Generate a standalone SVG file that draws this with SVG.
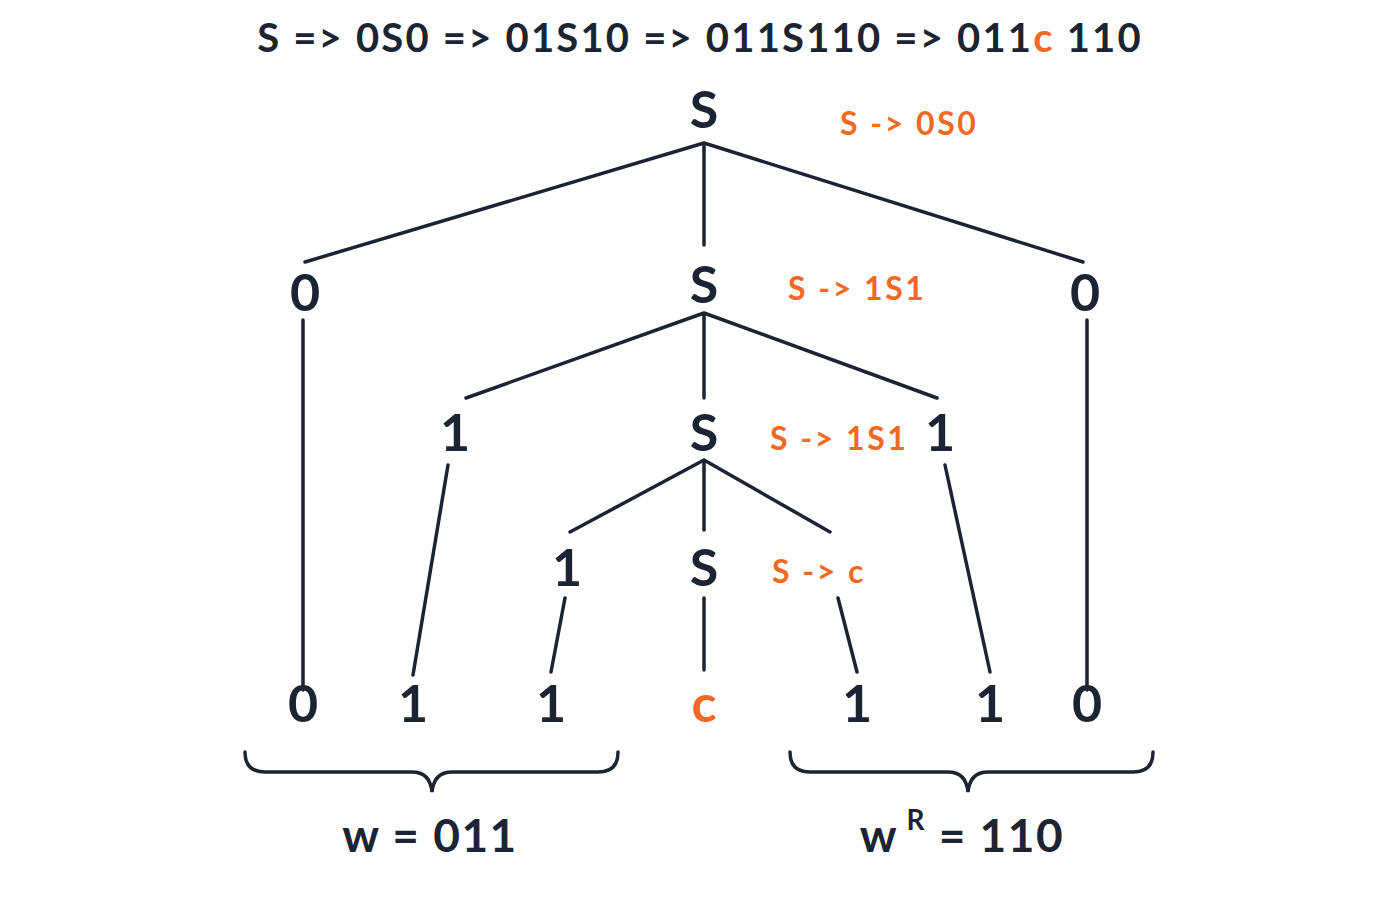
<svg xmlns="http://www.w3.org/2000/svg" width="1400" height="900" viewBox="0 0 1400 900">
<style>
.t{font-family:Lato,"Noto Sans",sans-serif;fill:#1c2433;text-anchor:middle}
.n{font-size:52px;font-weight:700}
.o{fill:#f26a21}
.r{font-family:Lato,"Noto Sans",sans-serif;fill:#f26a21;font-size:32px;font-weight:700;letter-spacing:2.5px}
.e{stroke:#1c2433;stroke-width:3.5;fill:none;stroke-linecap:round}
</style>
<rect width="1400" height="900" fill="#fff"/>
<text class="t" x="700" y="52" font-size="40" font-weight="700" letter-spacing="2.2">S =&gt; 0S0 =&gt; 01S10 =&gt; 011S110 =&gt; 011<tspan class="o">c</tspan> 110</text>
<g id="connectors" class="e">
<path d="M704 143L305 262M704 143V245M704 143L1083 262"/>
<path d="M303 320V690M1087 320V690"/>
<path d="M704 313L466 398M704 313V398M704 313L937 398"/>
<path d="M448 465L413 675M945 465L990 672"/>
<path d="M704 460L570 532M704 460V530M704 460L830 532"/>
<path d="M565 598L551 672M704 598V670M838 598L857 672"/>
</g>
<g id="root"><text class="t n" x="704" y="128">S</text></g>
<text class="r" x="840" y="135">S -&gt; 0S0</text>
<g id="l2"><text class="t n" x="305" y="311">0</text><text class="t n" x="704" y="303">S</text><text class="t n" x="1085" y="311">0</text></g>
<text class="r" x="788" y="300">S -&gt; 1S1</text>
<g id="l3"><text class="t n" x="455" y="451">1</text><text class="t n" x="704" y="451">S</text><text class="t n" x="940" y="451">1</text></g>
<text class="r" x="770" y="450">S -&gt; 1S1</text>
<g id="l4"><text class="t n" x="567" y="586">1</text><text class="t n" x="704" y="586">S</text></g>
<text class="r" x="772" y="583">S -&gt; c</text>
<g id="leaves">
<text class="t n" x="303" y="722">0</text><text class="t n" x="413" y="722">1</text><text class="t n" x="551" y="722">1</text>
<text class="t n" x="704" y="722" style="fill:#f26a21">c</text>
<text class="t n" x="857" y="722">1</text><text class="t n" x="990" y="722">1</text><text class="t n" x="1087" y="722">0</text>
</g>
<g id="braces" class="e" stroke-width="3">
<path d="M245 752Q245 772 265 772H412Q430 772 432 792Q434 772 452 772H598Q618 772 618 752"/>
<path d="M790 752Q790 772 810 772H948Q966 772 968 792Q970 772 988 772H1133Q1153 772 1153 752"/>
</g>
<g id="labels">
<text class="t" x="430" y="852" font-size="46" font-weight="700" letter-spacing="1.5">w = 011</text>
<text class="t" x="962" y="852" font-size="46" font-weight="700" letter-spacing="1.5">w<tspan dy="-22" font-size="28"> R</tspan><tspan dy="22"> = 110</tspan></text>
</g>
</svg>
